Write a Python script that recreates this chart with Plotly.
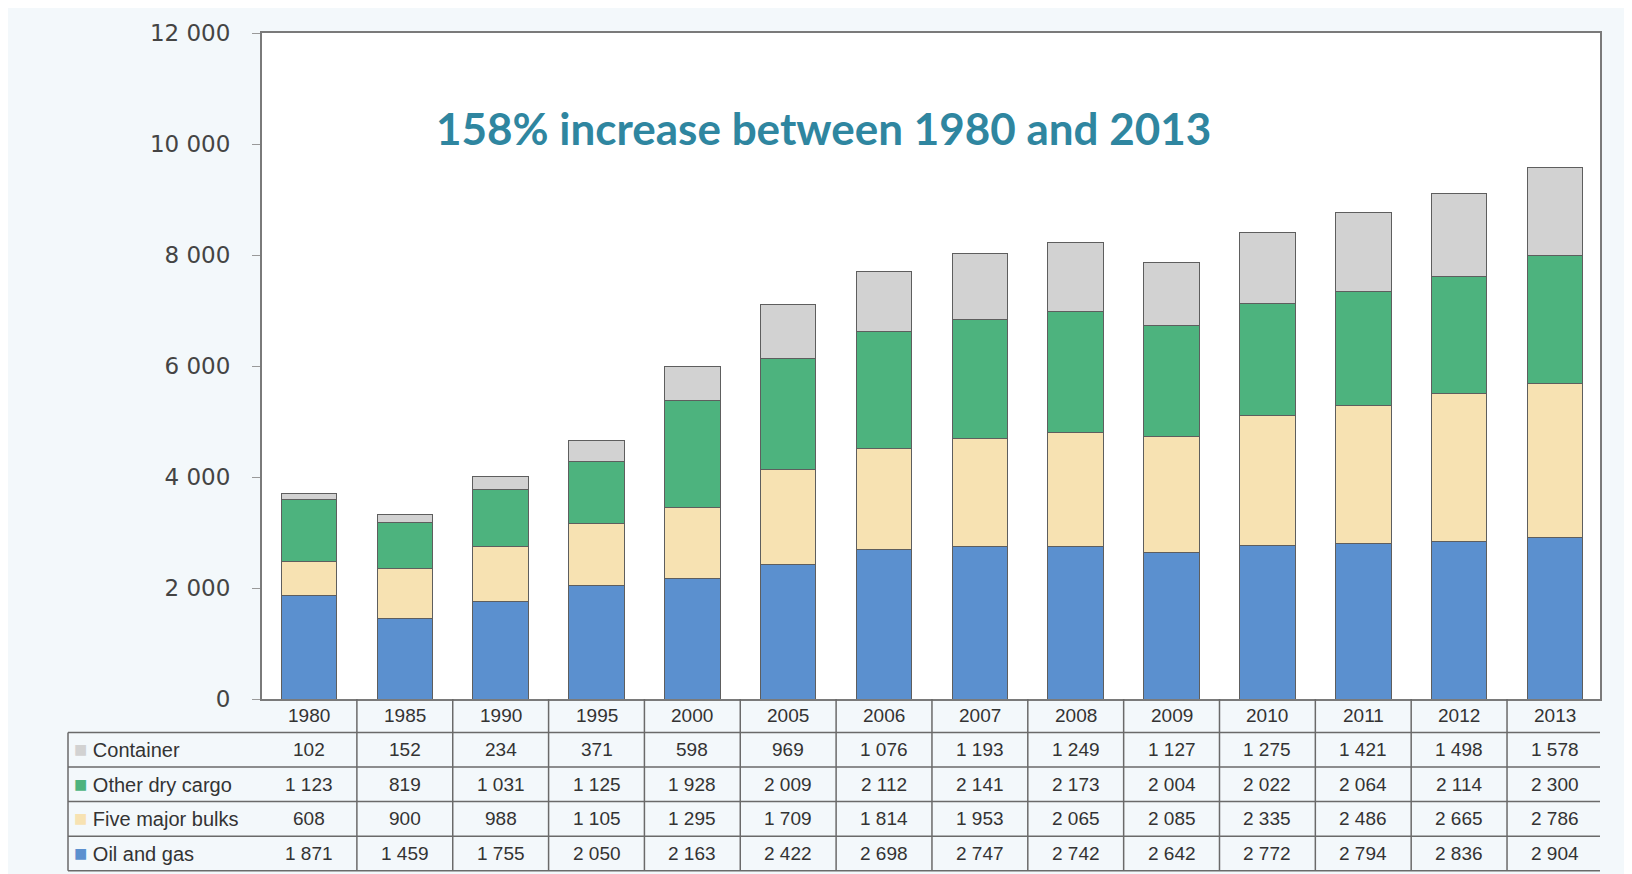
import plotly.graph_objects as go

# seaborne trade, million tons loaded
years = ["1980", "1985", "1990", "1995", "2000", "2005", "2006", "2007",
         "2008", "2009", "2010", "2011", "2012", "2013"]
oil_gas = [1871, 1459, 1755, 2050, 2163, 2422, 2698, 2747, 2742, 2642, 2772, 2794, 2836, 2904]
major_bulks = [608, 900, 988, 1105, 1295, 1709, 1814, 1953, 2065, 2085, 2335, 2486, 2665, 2786]
other_dry = [1123, 819, 1031, 1125, 1928, 2009, 2112, 2141, 2173, 2004, 2022, 2064, 2114, 2300]
container = [102, 152, 234, 371, 598, 969, 1076, 1193, 1249, 1127, 1275, 1421, 1498, 1578]

series = [
    ("Oil and gas", oil_gas, "#5b90cf"),
    ("Five major bulks", major_bulks, "#f7e2b2"),
    ("Other dry cargo", other_dry, "#4db37e"),
    ("Container", container, "#d2d2d2"),
]
ytick_vals = [0, 2000, 4000, 6000, 8000, 10000, 12000]
note = "158% increase between 1980 and 2013"

# page has an 8px body margin, so the figure is a little smaller than the window
W, H = 1624, 866
ML, MR, MT, MB = 254, 32, 16, 175
plot_h = H - MT - MB
plot_w = W - ML - MR


def fmt(v):
    return f"{v:,}".replace(",", " ")


def py(px):
    # pixel offset below the plot bottom -> paper y
    return -px / plot_h


fig = go.Figure()
for name, vals, col in series:
    fig.add_trace(go.Bar(
        x=years, y=vals, name=name,
        marker=dict(color=col, line=dict(color="#5e5e5e", width=1)),
        width=0.58,
    ))

# ---- data table under the bars ----
header_h = 34
row_h = 35
table_rows = [series[3], series[2], series[1], series[0]]  # as printed
label_x = (60 - ML) / plot_w
cell_font = dict(family="Liberation Sans, Arial", size=19, color="#333")

annos = []
shapes = []
for i, yr in enumerate(years):
    annos.append(dict(x=i, xref="x", y=py(header_h / 2), yref="paper", text=yr,
                      xanchor="center", yanchor="middle",
                      showarrow=False, font=cell_font))
    for r, (name, vals, col) in enumerate(table_rows):
        yc = py(header_h + row_h * r + row_h / 2)
        annos.append(dict(x=i, xref="x", y=yc, yref="paper", text=fmt(vals[i]),
                          xanchor="center", yanchor="middle",
                          showarrow=False, font=cell_font))

for r, (name, vals, col) in enumerate(table_rows):
    yc = py(header_h + row_h * r + row_h / 2)
    annos.append(dict(x=label_x + 0.003, xref="paper", y=yc, yref="paper",
                      xanchor="left", yanchor="middle", showarrow=False,
                      text=f"<span style='color:{col};font-size:22px'>■</span> {name}",
                      font=dict(family="Liberation Sans, Arial", size=20, color="#333")))

# column separators
for i in range(len(years) + 1):
    shapes.append(dict(type="line", xref="x", yref="paper",
                       x0=i - 0.5, x1=i - 0.5, y0=0, y1=py(header_h + row_h * 4),
                       line=dict(color="#6a6a6a", width=1.5)))
shapes.append(dict(type="line", xref="paper", yref="paper",
                   x0=label_x, x1=label_x, y0=py(header_h), y1=py(header_h + row_h * 4),
                   line=dict(color="#6a6a6a", width=1.5)))
for r in range(5):
    yy = py(header_h + row_h * r)
    shapes.append(dict(type="line", xref="paper", yref="paper",
                       x0=label_x, x1=1, y0=yy, y1=yy,
                       line=dict(color="#6a6a6a", width=1.5)))

annos.append(dict(x=0.42, xref="paper", y=0.857, yref="paper", text=f"<b>{note}</b>",
                  xanchor="center", yanchor="middle",
                  showarrow=False, font=dict(family="Lato", size=44, color="#2f86a0")))

fig.update_layout(
    width=W, height=H,
    barmode="stack",
    bargap=0.42,
    showlegend=False,
    separators=". ",
    paper_bgcolor="#f3f8fb",
    plot_bgcolor="white",
    font=dict(family="Liberation Sans, Arial", color="#333"),
    margin=dict(l=ML, r=MR, t=MT, b=MB),
    xaxis=dict(type="category", range=[-0.49, 13.47], showticklabels=False, ticks="",
               showline=True, mirror=True, linecolor="#7a7a7a", linewidth=2,
               showgrid=False),
    yaxis=dict(range=[0, 12000], tickvals=ytick_vals, tickformat=",d",
               ticks="outside", ticklen=8, tickcolor="#999",
               ticklabelstandoff=17,
               tickfont=dict(family="DejaVu Sans", size=23, color="#444"),
               showline=True, mirror=True, linecolor="#7a7a7a", linewidth=2,
               showgrid=False, zeroline=False),
    annotations=annos,
    shapes=shapes,
)

fig.write_html("out.html")
